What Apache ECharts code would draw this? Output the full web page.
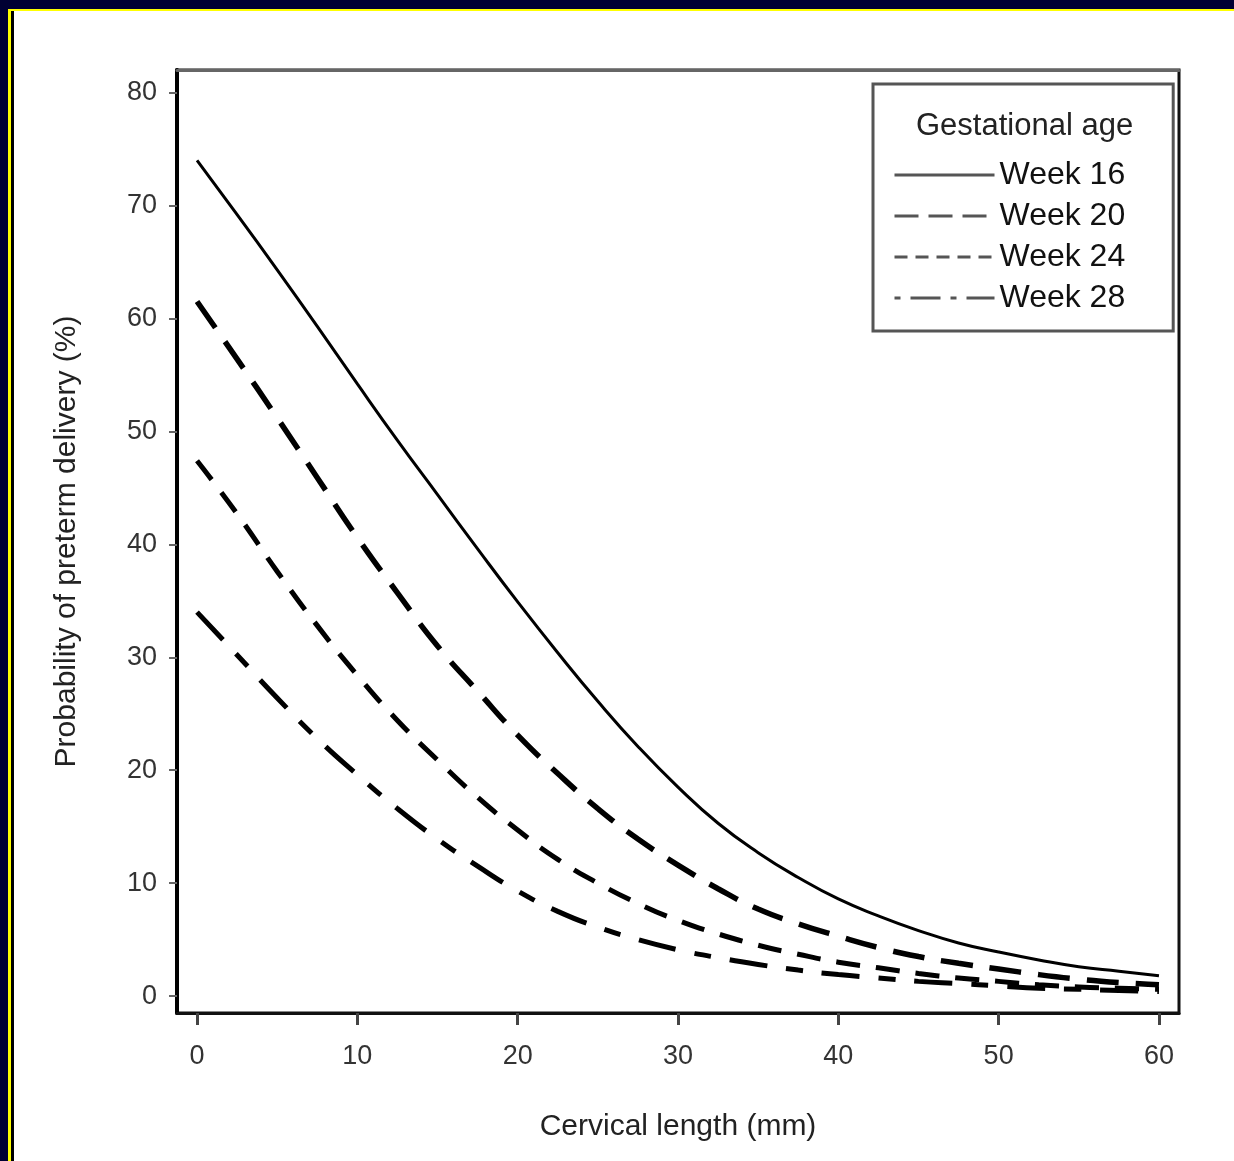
<!DOCTYPE html>
<html>
<head>
<meta charset="utf-8">
<title>Probability of preterm delivery</title>
<script src="https://cdn.jsdelivr.net/npm/echarts@6/dist/echarts.min.js"></script>
<style>
  html, body { margin: 0; padding: 0; width: 1234px; height: 1161px; background: #000033; overflow: hidden; }
  #frame { position: absolute; left: 8px; top: 9px; right: 0; bottom: 0; border-top: 2px solid #ffff00; border-left: 3px solid #ffff00; }
  #chart { position: absolute; left: 0; top: 0; right: 0; bottom: 0; background: #fff; border-left: 3px solid #000; }
</style>
</head>
<body>
<div id="frame"><div id="chart"></div></div>
<script>
// cervical length (mm), read every 2.5 mm
var cervicalLength = [0, 2.5, 5, 7.5, 10, 12.5, 15, 17.5, 20, 22.5, 25, 27.5, 30,
                      32.5, 35, 37.5, 40, 42.5, 45, 47.5, 50, 52.5, 55, 57.5, 60];
var week16 = [74.0, 69.2, 64.3, 59.3, 54.2, 49.2, 44.4, 39.6, 34.9, 30.4, 26.1, 22.1, 18.5,
              15.3, 12.7, 10.5, 8.6, 7.1, 5.8, 4.7, 3.9, 3.2, 2.6, 2.2, 1.8];
var week20 = [61.5, 56.4, 51.2, 45.9, 40.6, 35.7, 31.0, 27.0, 23.1, 19.7, 16.6, 13.9, 11.6,
              9.5, 7.7, 6.4, 5.3, 4.3, 3.5, 2.9, 2.4, 1.9, 1.5, 1.2, 1.0];
var week24 = [47.4, 42.7, 37.6, 32.8, 28.4, 24.4, 20.9, 17.6, 14.7, 12.1, 10.0, 8.2, 6.7,
              5.5, 4.5, 3.7, 3.0, 2.5, 2.0, 1.6, 1.3, 1.0, 0.8, 0.7, 0.6];
var week28 = [34.0, 30.2, 26.4, 22.8, 19.6, 16.6, 13.9, 11.5, 9.3, 7.5, 6.1, 5.0, 4.1,
              3.4, 2.8, 2.3, 1.9, 1.6, 1.3, 1.1, 0.9, 0.7, 0.6, 0.5, 0.4];
var seriesNames = ['Week 16', 'Week 20', 'Week 24', 'Week 28'];
var xTicks = [0, 10, 20, 30, 40, 50, 60];
var yTicks = [0, 10, 20, 30, 40, 50, 60, 70, 80];

function pairs(ys) {
    return cervicalLength.map(function (x, i) { return [x, ys[i]]; });
}

var labelFont = { color: '#333', fontFamily: 'Liberation Sans', fontSize: 27 };
var nameFont = { color: '#222', fontFamily: 'Liberation Sans', fontSize: 30 };
var noDot = { color: 'rgba(0,0,0,0)', borderWidth: 0 };

var chart = echarts.init(document.getElementById('chart'));
chart.setOption({
    animation: false,
    backgroundColor: '#fff',
    grid: { left: 163, top: 59, right: 55, bottom: 148, show: true, borderColor: '#111', borderWidth: 3 },
    title: {
        text: 'Gestational age',
        left: 897, top: 95,
        textStyle: { color: '#222', fontFamily: 'Liberation Sans', fontSize: 31, fontWeight: 'normal' }
    },
    legend: {
        orient: 'vertical',
        left: 859, top: 73,
        padding: [75, 48, 17, 20],
        itemWidth: 100, itemHeight: 14, itemGap: 9,
        borderColor: '#555', borderWidth: 3,
        lineStyle: { width: 3, color: '#555' },
        itemStyle: noDot,
        textStyle: { color: '#111', fontFamily: 'Liberation Sans', fontSize: 32 },
        data: [
            { name: seriesNames[0], itemStyle: noDot, lineStyle: { type: 'solid' } },
            { name: seriesNames[1], itemStyle: noDot, lineStyle: { type: [24, 10] } },
            { name: seriesNames[2], itemStyle: noDot, lineStyle: { type: [13, 8] } },
            { name: seriesNames[3], itemStyle: noDot, lineStyle: { type: [6, 10, 30, 10] } }
        ]
    },
    xAxis: [{
        type: 'value', min: -1.25, max: 61.25,
        name: 'Cervical length (mm)', nameLocation: 'middle', nameGap: 99, nameTextStyle: nameFont,
        axisLine: { show: true, onZero: false, lineStyle: { color: '#111', width: 3 } },
        axisTick: { show: true, length: 12, customValues: xTicks, lineStyle: { color: '#444', width: 3 } },
        axisLabel: { margin: 30, customValues: xTicks, textStyle: labelFont },
        splitLine: { show: false }
    }, {
        type: 'value', position: 'top', min: -1.25, max: 61.25,
        axisLine: { show: true, onZero: false, lineStyle: { color: '#666', width: 3 } },
        axisTick: { show: false }, axisLabel: { show: false }, splitLine: { show: false }
    }],
    yAxis: [{
        type: 'value', min: -1.5, max: 82,
        name: 'Probability of preterm delivery (%)', nameLocation: 'middle', nameRotate: 90, nameGap: 95,
        nameTextStyle: nameFont,
        axisLine: { show: true, onZero: false, lineStyle: { color: '#000', width: 4 } },
        axisTick: { show: true, length: 8, customValues: yTicks, lineStyle: { color: '#666', width: 2 } },
        axisLabel: { margin: 20, customValues: yTicks, textStyle: labelFont },
        splitLine: { show: false }
    }],
    series: [
        { name: seriesNames[0], type: 'line', data: pairs(week16), smooth: true, symbol: 'none',
          lineStyle: { color: '#000', width: 3, type: 'solid' } },
        { name: seriesNames[1], type: 'line', data: pairs(week20), smooth: true, symbol: 'none',
          lineStyle: { color: '#000', width: 5.5, type: [32, 17] } },
        { name: seriesNames[2], type: 'line', data: pairs(week24), smooth: true, symbol: 'none',
          lineStyle: { color: '#000', width: 5, type: [24, 16] } },
        { name: seriesNames[3], type: 'line', data: pairs(week28), smooth: true, symbol: 'none',
          lineStyle: { color: '#000', width: 5, type: [38, 19, 17, 19] } }
    ]
});
window.onresize = function () { chart.resize(); };
</script>
</body>
</html>
